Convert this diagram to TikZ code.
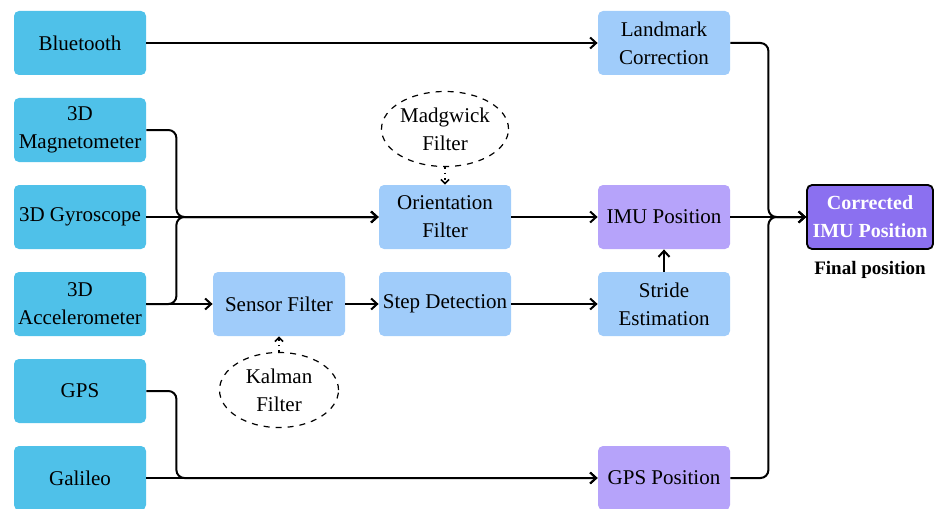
\documentclass[tikz,border=0pt]{standalone}
\usepackage{fontspec}
\setmainfont{Liberation Serif}
\usetikzlibrary{arrows.meta,shapes.geometric}

\definecolor{sensorblue}{RGB}{79,193,233}
\definecolor{procblue}{RGB}{160,204,250}
\definecolor{poslilac}{RGB}{182,163,250}
\definecolor{finalpurple}{RGB}{139,112,240}

\tikzset{
  box/.style={rectangle, rounded corners=2.5pt, minimum width=66pt, minimum height=32pt,
    align=center, inner sep=1pt, font=\fontsize{10.5}{14}\selectfont},
  inbox/.style={box, fill=sensorblue},
  procbox/.style={box, fill=procblue},
  posbox/.style={box, fill=poslilac},
  finalbox/.style={box, fill=finalpurple, draw=black, line width=0.9pt, minimum width=63pt,
    text=white, font=\fontsize{10}{14}\selectfont\bfseries},
  filterell/.style={ellipse, draw, dashed, line width=0.6pt, minimum width=59.5pt,
    minimum height=37.5pt, inner sep=0pt, align=center, font=\fontsize{10.5}{14}\selectfont},
  flow/.style={line width=1pt, -{Straight Barb[length=3pt,width=5.5pt]}},
  dotflow/.style={line width=0.8pt, dotted, -{Straight Barb[length=2pt,width=4pt]}}
}

\begin{document}
\begin{tikzpicture}[x=0.5pt, y=-0.5pt]
\useasboundingbox (0,0) rectangle (935,508);

% inputs
\node[inbox] (bt) at (80,43) {Bluetooth};
\node[inbox] (mag) at (80,130) {3D\\Magnetometer};
\node[inbox] (gyro) at (80,217) {3D Gyroscope};
\node[inbox] (acc) at (80,304) {3D\\Accelerometer};
\node[inbox] (gps) at (80,391) {GPS};
\node[inbox] (gal) at (80,478) {Galileo};

% processing
\node[procbox] (sensf) at (279,304) {Sensor Filter};
\node[filterell] (kalman) at (279,390) {Kalman\\Filter};
\node[procbox] (orient) at (445,217) {Orientation\\Filter};
\node[filterell] (madg) at (445,129) {Madgwick\\Filter};
\node[procbox] (stepdet) at (445,304) {Step Detection};
\node[procbox] (landm) at (664,43) {Landmark\\Correction};
\node[posbox] (imupos) at (664,217) {IMU Position};
\node[procbox] (stride) at (664,304) {Stride\\Estimation};
\node[posbox] (gpspos) at (664,478) {GPS Position};
\node[finalbox] (corr) at (870,217) {Corrected\\IMU Position};
\node[font=\fontsize{9.5}{12}\selectfont\bfseries] (finallbl) at (870,270) {Final position};

\draw[flow] (bt) -- (landm);
\draw[flow, rounded corners=4pt] (mag.east) -- ++(30,0) |- (orient.west);
\draw[flow] (gyro) -- (orient);
\draw[flow, rounded corners=4pt] (acc.east) -- ++(30,0) |- (orient.west);
\draw[flow] (acc) -- (sensf);
\draw[flow, rounded corners=4pt] (gps.east) -- ++(30,0) |- (gpspos.west);
\draw[flow] (gal) -- (gpspos);

\draw[dotflow] (madg) -- (orient);
\draw[dotflow] (kalman) -- (sensf);
\draw[flow] (sensf) -- (stepdet);
\draw[flow] (stepdet) -- (stride);
\draw[flow] (orient) -- (imupos);
\draw[flow] (stride) -- (imupos);

\draw[flow, rounded corners=4pt] (landm.east) -- ++(38,0) |- (corr.west);
\draw[flow] (imupos) -- (corr);
\draw[flow, rounded corners=4pt] (gpspos.east) -- ++(38,0) |- (corr.west);
\end{tikzpicture}
\end{document}
